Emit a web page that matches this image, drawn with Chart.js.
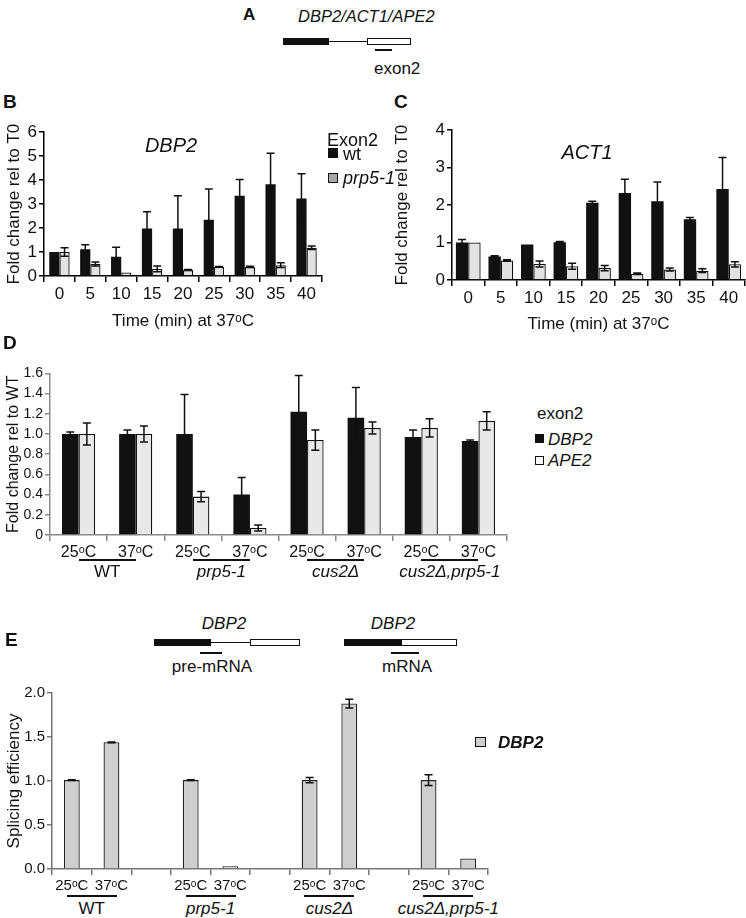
<!DOCTYPE html>
<html>
<head>
<meta charset="utf-8">
<script src="https://cdn.jsdelivr.net/npm/chart.js@4.4.1/dist/chart.umd.min.js"></script>
<style>
  body { margin: 0; background: #fff; font-family: "Liberation Sans", Arial, sans-serif; color: #111; }
  #fig { position: relative; width: 746px; height: 918px; overflow: hidden; background: #fff; }
  .wrap { position: absolute; }
  .t { position: absolute; white-space: nowrap; transform: translate(-50%, -50%); line-height: 1; }
  .l { position: absolute; white-space: nowrap; transform: translateY(-50%); line-height: 1; }
  .letter { font-weight: bold; font-size: 19px; }
  .it { font-style: italic; }
  .hline { position: absolute; height: 1.5px; background: #111; }
  .sq { position: absolute; width: 9px; height: 9px; box-sizing: border-box; border: 1.2px solid #111; }
  .gene { position: absolute; box-sizing: border-box; border: 1.5px solid #111; }
</style>
</head>
<body>
<div id="fig">
  <!-- A -->
  <div class="l letter" style="left:243px;top:14px;font-size:17px">A</div>
  <div class="l it" style="left:298px;top:16px;font-size:16.5px">DBP2/ACT1/APE2</div>
  <div class="gene" style="left:283px;top:38px;width:46px;height:7px;background:#111"></div>
  <div class="hline" style="left:329px;top:41px;width:38px;height:1.2px"></div>
  <div class="gene" style="left:367px;top:38px;width:44px;height:7px;background:#fff"></div>
  <div class="hline" style="left:375px;top:49px;width:17px"></div>
  <div class="l" style="left:374px;top:68px;font-size:17px">exon2</div>

  <!-- B -->
  <div class="l letter" style="left:3px;top:101px">B</div>
  <div class="wrap" style="left:0;top:120px;width:330px;height:215px"><canvas id="chartB"></canvas></div>
  <div class="t it" style="left:171px;top:145px;font-size:20px">DBP2</div>
  <div class="l" style="left:327px;top:140px;font-size:18px">Exon2</div>
  <div class="sq" style="left:328px;top:148px;width:10px;height:10px;background:#111"></div>
  <div class="l" style="left:343px;top:154px;font-size:18px">wt</div>
  <div class="sq" style="left:328px;top:173px;width:10px;height:10px;background:#a6a6a6"></div>
  <div class="l it" style="left:343px;top:178px;font-size:18px">prp5-1</div>

  <!-- C -->
  <div class="l letter" style="left:394px;top:101px">C</div>
  <div class="wrap" style="left:388px;top:118px;width:358px;height:220px"><canvas id="chartC"></canvas></div>
  <div class="t it" style="left:587px;top:152px;font-size:20px">ACT1</div>

  <!-- D -->
  <div class="l letter" style="left:3px;top:342px">D</div>
  <div class="wrap" style="left:0;top:363px;width:515px;height:197px"><canvas id="chartD"></canvas></div>
  <div class="l" style="left:537px;top:413px;font-size:17px">exon2</div>
  <div class="sq" style="left:535px;top:434px;background:#111"></div>
  <div class="l it" style="left:548px;top:439px;font-size:17px">DBP2</div>
  <div class="sq" style="left:535px;top:456px;background:#fff"></div>
  <div class="l it" style="left:548px;top:460px;font-size:17px">APE2</div>
  <div id="groupsD"></div>

  <!-- E -->
  <div class="l letter" style="left:5px;top:639px">E</div>
  <div class="t it" style="left:224px;top:623px;font-size:17px">DBP2</div>
  <div class="gene" style="left:154px;top:639px;width:57px;height:7px;background:#111"></div>
  <div class="hline" style="left:211px;top:642px;width:39px;height:1.2px"></div>
  <div class="gene" style="left:250px;top:639px;width:50px;height:7px;background:#fff"></div>
  <div class="hline" style="left:200px;top:652px;width:22px"></div>
  <div class="t" style="left:212px;top:666px;font-size:17px">pre-mRNA</div>
  <div class="t it" style="left:393px;top:623px;font-size:17px">DBP2</div>
  <div class="gene" style="left:344px;top:639px;width:58px;height:7px;background:#111"></div>
  <div class="gene" style="left:401px;top:639px;width:56px;height:7px;background:#fff"></div>
  <div class="hline" style="left:391px;top:652px;width:28px"></div>
  <div class="t" style="left:407px;top:666px;font-size:17px">mRNA</div>
  <div class="wrap" style="left:0;top:682px;width:496px;height:213px"><canvas id="chartE"></canvas></div>
  <div class="sq" style="left:475px;top:737px;width:11px;height:10px;background:#cfcfcf"></div>
  <div class="l it" style="left:498px;top:742px;font-size:17px;font-weight:bold">DBP2</div>
  <div id="groupsE"></div>
</div>

<script>
// ---- data ----
const timeLabels = ['0', '5', '10', '15', '20', '25', '30', '35', '40'];

// B: DBP2 exon2
const dbp2Wt = [1.0, 1.12, 0.8, 1.98, 1.98, 2.35, 3.35, 3.83, 3.23];
const dbp2WtErr = [0, 0.18, 0.4, 0.7, 1.37, 1.28, 0.68, 1.29, 1.04];
const dbp2Prp = [1.0, 0.5, 0.15, 0.3, 0.25, 0.38, 0.38, 0.45, 1.18];
const dbp2PrpErr = [0.18, 0.08, 0, 0.12, 0.02, 0.02, 0.03, 0.1, 0.07];

// C: ACT1 exon2
const act1Wt = [1.0, 0.63, 0.95, 1.01, 2.06, 2.32, 2.1, 1.62, 2.43];
const act1WtErr = [0.08, 0.02, 0, 0.02, 0.04, 0.37, 0.52, 0.05, 0.84];
const act1Prp = [1.0, 0.52, 0.43, 0.37, 0.32, 0.17, 0.28, 0.25, 0.42];
const act1PrpErr = [0, 0.02, 0.08, 0.08, 0.07, 0.02, 0.04, 0.05, 0.07];

// D: fold change rel to WT
const tempLabels = ['25ᵒC', '37ᵒC', '25ᵒC', '37ᵒC', '25ᵒC', '37ᵒC', '25ᵒC', '37ᵒC'];
const strains = ['WT', 'prp5-1', 'cus2Δ', 'cus2Δ,prp5-1'];
const dDbp2 = [1.0, 1.0, 1.0, 0.4, 1.22, 1.16, 0.97, 0.93];
const dDbp2Err = [0.02, 0.04, 0.39, 0.17, 0.36, 0.3, 0.07, 0.01];
const dApe2 = [1.0, 1.0, 0.38, 0.07, 0.94, 1.06, 1.06, 1.13];
const dApe2Err = [0.11, 0.08, 0.05, 0.03, 0.1, 0.06, 0.09, 0.09];

// E: splicing efficiency (empty slots are the gaps between strains)
const eLabels = ['25ᵒC', '37ᵒC', '', '25ᵒC', '37ᵒC', '', '25ᵒC', '37ᵒC', '', '25ᵒC', '37ᵒC'];
const eSplice = [1.01, 1.44, null, 1.01, 0.03, null, 1.01, 1.88, null, 1.01, 0.12];
const eSpliceErr = [0.005, 0.004, 0, 0.005, 0, 0, 0.03, 0.05, 0, 0.06, 0];

const FONT = '"Liberation Sans", Arial, sans-serif';
Chart.defaults.font.family = FONT;
Chart.defaults.color = '#111';

// ERROR BARS
const errorBars = {
  id: 'errorBars',
  afterDatasetsDraw(chart, args, opts) {
    const ctx = chart.ctx;
    const y = chart.scales.y;
    const cap = opts.cap || 4;
    chart.data.datasets.forEach((ds, i) => {
      if (!ds.err) return;
      const meta = chart.getDatasetMeta(i);
      meta.data.forEach((bar, j) => {
        const v = ds.data[j], e = ds.err[j];
        if (v == null || !e) return;
        const top = y.getPixelForValue(v + e);
        const bot = y.getPixelForValue(v - e);
        ctx.save();
        ctx.strokeStyle = '#111';
        ctx.lineWidth = 1.5;
        ctx.beginPath();
        ctx.moveTo(bar.x, top); ctx.lineTo(bar.x, bot);
        ctx.moveTo(bar.x - cap, top); ctx.lineTo(bar.x + cap, top);
        ctx.moveTo(bar.x - cap, bot); ctx.lineTo(bar.x + cap, bot);
        ctx.stroke();
        ctx.restore();
      });
    });
  }
};

function baseOptions(pad, cap) {
  return {
    responsive: true,
    maintainAspectRatio: false,
    animation: false,
    layout: { padding: pad },
    plugins: { legend: { display: false }, tooltip: { enabled: false }, errorBars: { cap: cap } },
  };
}

function xAxis(color, fontSize, h, title) {
  return {
    grid: { drawOnChartArea: false, drawTicks: true, tickLength: 6, color: color, lineWidth: 1.5 },
    border: { display: true, color: color, width: 1.5 },
    ticks: { color: '#111', font: { size: fontSize }, padding: 2, maxRotation: 0, autoSkip: false },
    title: title ? { display: true, text: title, color: '#111', font: { size: 17 }, padding: { top: 0, bottom: 3 } } : { display: false },
    afterFit(s) { s.height = h; }
  };
}

function yAxis(max, step, color, fontSize, w, title, titleSize, fmt) {
  return {
    min: 0, max: max,
    grid: { drawOnChartArea: false, drawTicks: true, tickLength: 5, color: color, lineWidth: 1.5 },
    border: { display: true, color: color, width: 1.5 },
    ticks: { stepSize: step, color: '#111', font: { size: fontSize }, padding: 2, callback: fmt },
    title: { display: true, text: title, color: '#111', font: { size: titleSize }, padding: { top: 4, bottom: 0 } },
    afterFit(s) { s.width = w; }
  };
}

// B
const optB = baseOptions({ top: 10, right: 8 }, 4);
optB.datasets = { bar: { categoryPercentage: 0.66, barPercentage: 1 } };
optB.scales = {
  x: xAxis('#000', 17, 59, 'Time (min) at 37ᵒC'),
  y: yAxis(6, 1, '#000', 17, 44, 'Fold change rel to T0', 17, v => v)
};
new Chart(document.getElementById('chartB'), {
  type: 'bar',
  data: {
    labels: timeLabels,
    datasets: [
      { label: 'wt', data: dbp2Wt, err: dbp2WtErr, backgroundColor: '#111', borderWidth: 0 },
      { label: 'prp5-1', data: dbp2Prp, err: dbp2PrpErr, backgroundColor: '#e2e2e2', borderColor: '#111', borderWidth: 1.3 }
    ]
  },
  options: optB,
  plugins: [errorBars]
});

// C
const optC = baseOptions({ top: 10, right: 1 }, 4);
optC.datasets = { bar: { categoryPercentage: 0.76, barPercentage: 1 } };
optC.scales = {
  x: xAxis('#000', 17, 58, 'Time (min) at 37ᵒC'),
  y: yAxis(4, 1, '#000', 17, 64, 'Fold change rel to T0', 17, v => v)
};
new Chart(document.getElementById('chartC'), {
  type: 'bar',
  data: {
    labels: timeLabels,
    datasets: [
      { label: 'wt', data: act1Wt, err: act1WtErr, backgroundColor: '#111', borderWidth: 0 },
      { label: 'prp5-1', data: act1Prp, err: act1PrpErr, backgroundColor: '#e2e2e2', borderColor: '#111', borderWidth: 1.3 }
    ]
  },
  options: optC,
  plugins: [errorBars]
});

// D
const optD = baseOptions({ top: 10, right: 8 }, 4);
optD.datasets = { bar: { categoryPercentage: 0.58, barPercentage: 1 } };
optD.scales = {
  x: xAxis('#8a8a8a', 16, 25, null),
  y: yAxis(1.6, 0.2, '#8a8a8a', 14, 50, 'Fold change rel to WT', 16, v => v === 0 ? '0' : v.toFixed(1))
};
const chartD = new Chart(document.getElementById('chartD'), {
  type: 'bar',
  data: {
    labels: tempLabels,
    datasets: [
      { label: 'DBP2', data: dDbp2, err: dDbp2Err, backgroundColor: '#111', borderWidth: 0 },
      { label: 'APE2', data: dApe2, err: dApe2Err, backgroundColor: '#e8e8e8', borderColor: '#111', borderWidth: 1.3 }
    ]
  },
  options: optD,
  plugins: [errorBars]
});

// E
const optE = baseOptions({ top: 10, right: 8 }, 4);
optE.datasets = { bar: { categoryPercentage: 0.8, barPercentage: 0.5 } };
optE.scales = {
  x: xAxis('#777', 15, 26, null),
  y: yAxis(2, 0.5, '#777', 15, 52, 'Splicing efficiency', 17, v => v.toFixed(1))
};
const chartE = new Chart(document.getElementById('chartE'), {
  type: 'bar',
  data: {
    labels: eLabels,
    datasets: [
      { label: 'DBP2', data: eSplice, err: eSpliceErr, backgroundColor: '#cfcfcf', borderColor: '#222', borderWidth: 1.3 }
    ]
  },
  options: optE,
  plugins: [errorBars]
});

// strain labels under the paired ticks
function strainLabels(chart, holderId, offX, offY, pairs, lineY, textY, halfLine) {
  const holder = document.getElementById(holderId);
  const x = chart.scales.x;
  pairs.forEach((p, k) => {
    const a = x.getPixelForValue(p[0]) + offX;
    const b = x.getPixelForValue(p[1]) + offX;
    const mid = (a + b) / 2;
    const l0 = halfLine ? mid - halfLine : a;
    const l1 = halfLine ? mid + halfLine : b;
    const line = document.createElement('div');
    line.className = 'hline';
    line.style.left = l0 + 'px';
    line.style.top = lineY + 'px';
    line.style.width = (l1 - l0) + 'px';
    holder.appendChild(line);
    const t = document.createElement('div');
    t.className = 't' + (strains[k] === 'WT' ? '' : ' it');
    t.style.left = mid + 'px';
    t.style.top = textY + 'px';
    t.style.fontSize = '17px';
    t.textContent = strains[k];
    holder.appendChild(t);
  });
}

strainLabels(chartD, 'groupsD', 0, 363, [[0, 1], [2, 3], [4, 5], [6, 7]], 559, 571, 0);
strainLabels(chartE, 'groupsE', 0, 682, [[0, 1], [3, 4], [6, 7], [9, 10]], 895, 908, 25);
</script>
</body>
</html>
